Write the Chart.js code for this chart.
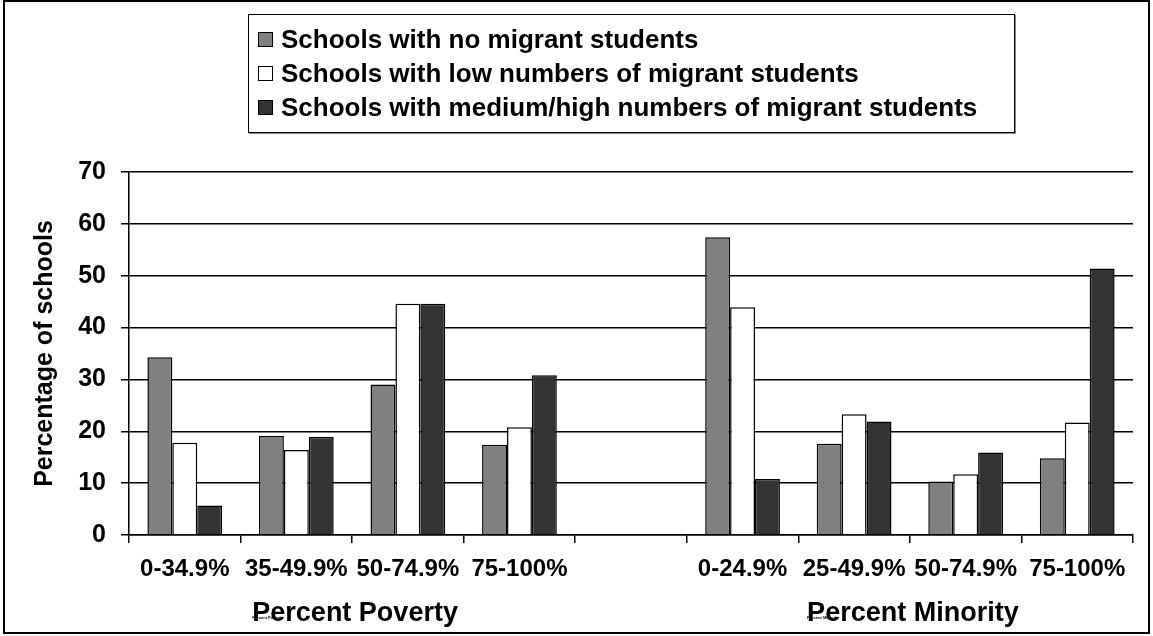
<!DOCTYPE html>
<html>
<head>
<meta charset="utf-8">
<script src="https://cdn.jsdelivr.net/npm/chart.js@4.4.1/dist/chart.umd.min.js"></script>
<style>
    html, body { margin: 0; padding: 0; background: #fff; }
    #wrap { position: relative; width: 1153px; height: 636px; overflow: hidden; }
    #frame {
        position: absolute; left: 3px; top: 0; width: 1147px; height: 634px;
        border: 2px solid #000; box-sizing: border-box; pointer-events: none;
    }
    #legendBox {
        position: absolute; left: 248px; top: 14px; width: 767px; height: 119px;
        border: 1.5px solid #000; box-sizing: border-box; background: #fff;
        box-shadow: 1px 1px 0 #888;
        font-family: "Liberation Sans", Arial, sans-serif; font-weight: bold; font-size: 26px;
    }
    .legRow { position: absolute; left: 9px; height: 34px; display: flex; align-items: center; white-space: nowrap; }
    .legSwatch { width: 13px; height: 13px; border: 1px solid #000; margin-right: 8px; }
</style>
</head>
<body>
<div id="wrap">
    <canvas id="chart" width="1153" height="636"></canvas>
    <div id="legendBox"></div>
    <div id="frame"></div>
</div>
<script>
/* =========================
   DATA
========================= */
const categories = ['0-34.9%', '35-49.9%', '50-74.9%', '75-100%', '', '0-24.9%', '25-49.9%', '50-74.9%', '75-100%'];
const seriesNames = [
    'Schools with no migrant students',
    'Schools with low numbers of migrant students',
    'Schools with medium/high numbers of migrant students'
];
const noMigrant   = [34.3, 19.1, 29.0, 17.4, null, 57.4, 17.6, 10.3, 14.8];
const lowMigrant  = [17.8, 16.4, 44.6, 20.8, null, 43.9, 23.3, 11.7, 21.7];
const highMigrant = [5.7, 18.9, 44.6, 30.8, null, 10.8, 21.9, 15.9, 51.4];
const yTicks = [0, 10, 20, 30, 40, 50, 60, 70];
const groupTitles = ['Percent Poverty', 'Percent Minority'];

const FONT = '"Liberation Sans", Arial, sans-serif';
const colors = ['#808080', '#ffffff', '#333333'];

/* =========================
   GROUP TITLES UNDER AXIS
========================= */
const groupTitlePlugin = {
    id: 'groupTitles',
    afterDraw(chart) {
        const x = chart.scales.x;
        const ctx = chart.ctx;
        const half = (x.getPixelForValue(1) - x.getPixelForValue(0)) / 2;
        const groups = [[0, 3], [5, 8]];
        ctx.save();
        ctx.fillStyle = '#000';
        ctx.textBaseline = 'alphabetic';
        groups.forEach((g, i) => {
            const left = x.getPixelForValue(g[0]) - half;
            const right = x.getPixelForValue(g[1]) + half;
            const cx = (left + right) / 2 + 3;
            ctx.font = 'bold 27px ' + FONT;
            ctx.textAlign = 'center';
            ctx.fillText(groupTitles[i], cx, 621);
            const w = ctx.measureText(groupTitles[i]).width;
            // tiny duplicate label that sits under the big one in the original
            ctx.font = 'bold 4px ' + FONT;
            ctx.textAlign = 'left';
            ctx.fillText(groupTitles[i], cx - w / 2, 619);
        });
        ctx.restore();
    }
};

new Chart(document.getElementById('chart'), {
    type: 'bar',
    data: {
        labels: categories,
        datasets: [noMigrant, lowMigrant, highMigrant].map((d, i) => ({
            label: seriesNames[i],
            data: d,
            backgroundColor: colors[i],
            borderColor: '#000',
            borderWidth: 1.5,
            categoryPercentage: 0.67,
            barPercentage: 1.0
        }))
    },
    options: {
        responsive: false,
        animation: false,
        devicePixelRatio: 1,
        layout: { padding: { left: 0, top: 172, right: 20, bottom: 0 } },
        plugins: {
            legend: { display: false },
            tooltip: { enabled: false }
        },
        scales: {
            x: {
                offset: true,
                afterFit: s => { s.height = 101; },
                grid: {
                    offset: true, drawOnChartArea: false, drawTicks: true,
                    tickLength: 8, color: '#000', lineWidth: 1.5
                },
                border: { color: '#000', width: 1.5 },
                ticks: {
                    color: '#000', padding: 12, maxRotation: 0, autoSkip: false,
                    font: { family: FONT, size: 24, weight: 'bold' }
                }
            },
            y: {
                min: 0, max: 70,
                afterFit: s => { s.width = 129; },
                afterBuildTicks: s => { s.ticks = yTicks.map(v => ({ value: v })); },
                grid: { color: '#000', lineWidth: 1.5, tickLength: 8 },
                border: { color: '#000', width: 1.5 },
                ticks: {
                    color: '#000', padding: 15,
                    font: { family: FONT, size: 25, weight: 'bold' }
                },
                title: {
                    display: true, text: 'Percentage of schools', color: '#000',
                    padding: { top: 30, bottom: 0 },
                    font: { family: FONT, size: 25, weight: 'bold' }
                }
            }
        }
    },
    plugins: [groupTitlePlugin]
});

/* =========================
   LEGEND (boxed, top)
========================= */
const box = document.getElementById('legendBox');
seriesNames.forEach((name, i) => {
    const row = document.createElement('div');
    row.className = 'legRow';
    row.style.top = (7 + i * 34) + 'px';
    const sw = document.createElement('span');
    sw.className = 'legSwatch';
    sw.style.background = colors[i];
    const txt = document.createElement('span');
    txt.textContent = name;
    row.appendChild(sw);
    row.appendChild(txt);
    box.appendChild(row);
});
</script>
</body>
</html>
